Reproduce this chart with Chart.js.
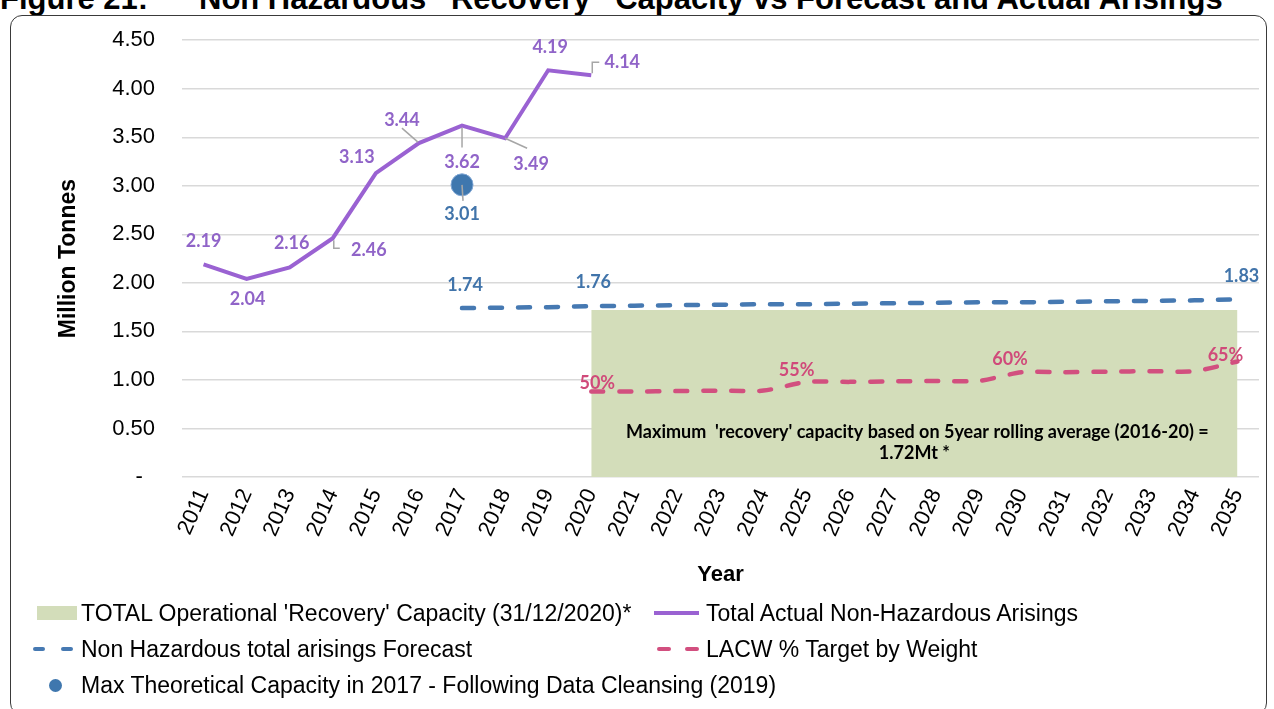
<!DOCTYPE html>
<html>
<head>
<meta charset="utf-8">
<script src="https://cdn.jsdelivr.net/npm/chart.js@4.4.1/dist/chart.umd.min.js"></script>
<style>
  html, body { margin: 0; padding: 0; background: #ffffff; }
  body { width: 1274px; height: 709px; position: relative; overflow: hidden; font-family: "Liberation Sans", Arial, sans-serif; }
  #frame { position: absolute; left: 10px; top: 15px; width: 1257px; height: 700px; border: 1.5px solid #3a3a3a; border-radius: 12px; box-sizing: border-box; }
  #title { position: absolute; left: 0; top: -19px; white-space: pre; font-weight: bold; font-size: 31px; color: #000; line-height: 36px; }
  #chart { position: absolute; left: 0; top: 0; }
  .lg { position: absolute; font-size: 23px; color: #000; white-space: nowrap; line-height: 26px; }
  .sw { position: absolute; }
</style>
</head>
<body>
<div id="title"><span>Figure 21:</span><span style="position:absolute;left:199px;">Non Hazardous  'Recovery'  Capacity vs Forecast and Actual Arisings</span></div>
<div id="frame"></div>
<canvas id="chart" width="1274" height="709"></canvas>
<div id="legend"></div>
<script>
// ---------------- data ----------------
const years = ['2011','2012','2013','2014','2015','2016','2017','2018','2019','2020','2021','2022','2023','2024','2025','2026','2027','2028','2029','2030','2031','2032','2033','2034','2035'];
const actualArisings = [2.19, 2.04, 2.16, 2.46, 3.13, 3.44, 3.62, 3.49, 4.19, 4.14, null, null, null, null, null, null, null, null, null, null, null, null, null, null, null];
const forecastArisings = [null, null, null, null, null, null, 1.74, 1.745, 1.75, 1.76, 1.765, 1.77, 1.775, 1.78, 1.78, 1.785, 1.79, 1.795, 1.80, 1.80, 1.805, 1.81, 1.815, 1.82, 1.83];
const lacwTarget = [null, null, null, null, null, null, null, null, null, 0.88, 0.88, 0.885, 0.89, 0.89, 0.98, 0.98, 0.985, 0.99, 0.99, 1.08, 1.08, 1.085, 1.09, 1.09, 1.19];
const operationalCapacity = [null, null, null, null, null, null, null, null, null, 1.72, 1.72, 1.72, 1.72, 1.72, 1.72, 1.72, 1.72, 1.72, 1.72, 1.72, 1.72, 1.72, 1.72, 1.72, 1.72];
const maxTheoretical2017 = [null, null, null, null, null, null, 3.01, null, null, null, null, null, null, null, null, null, null, null, null, null, null, null, null, null, null];
const lacwTargetLabels = { '2020': '50%', '2025': '55%', '2030': '60%', '2035': '65%' };
const yTicks = { min: 0, max: 4.5, step: 0.5 };
const seriesNames = {
  capacity: "TOTAL Operational 'Recovery' Capacity (31/12/2020)*",
  actual: 'Total Actual Non-Hazardous Arisings',
  forecast: 'Non Hazardous total arisings Forecast',
  lacw: 'LACW % Target by Weight',
  maxTheo: 'Max Theoretical Capacity in 2017 - Following Data Cleansing (2019)'
};
const capacityNote = ["Maximum  'recovery' capacity based on 5year rolling average (2016-20) =", '1.72Mt *'];

// ---------------- styles ----------------
const C = {
  purple: '#9a62d2', purpleText: '#9064c8',
  blue: '#4679b2', blueText: '#4174aa', dot: '#3f77ae',
  pink: '#d24f7f', pinkText: '#d04a7a',
  green: '#d3ddba', grid: '#d9d9d9', leader: '#a6a6a6'
};
const FONT = '"Liberation Sans", Arial, sans-serif';
const LBL = 'bold 18px Lato, "Open Sans", sans-serif';

// label placement: offset of text centre from the point, optional leader polyline (relative to point)
const actualLabelStyle = {
  '2011': { dx: 0, dy: -23 }, '2012': { dx: 1, dy: 20 }, '2013': { dx: 2, dy: -24 },
  '2014': { dx: 36, dy: 12, leader: [[1, 2], [1, 10], [7, 10]] },
  '2015': { dx: -19, dy: -16 },
  '2016': { dx: -17, dy: -23, leader: [[-17, -15], [-1, -1]] },
  '2017': { dx: 0, dy: 37, leader: [[0, 2], [0, 22]] },
  '2018': { dx: 26, dy: 26, leader: [[0, 0], [22, 10]] },
  '2019': { dx: 2, dy: -23 },
  '2020': { dx: 31, dy: -13, leader: [[1, -2], [1, -13], [8, -13]] }
};
const forecastLabelStyle = { '2017': { dx: 3, dy: -23 }, '2020': { dx: 2, dy: -24 }, '2035': { dx: 4, dy: -23 } };
const lacwLabelStyle = { '2020': { dx: 6, dy: -8 }, '2025': { dx: -10, dy: -12 }, '2030': { dx: -12, dy: -13 }, '2035': { dx: -12, dy: -6 } };
const maxTheoLabelStyle = { '2017': { dx: 0, dy: 29, leader: [[0, 0], [1, 16]] } };

// ---------------- plugins ----------------
const valueLabels = {
  id: 'valueLabels',
  afterDatasetsDraw(chart) {
    const ctx = chart.ctx;
    const xs = chart.scales.x, ys = chart.scales.y;
    // capacity note
    const capIdx = operationalCapacity.map((v, i) => v == null ? -1 : i).filter(i => i >= 0);
    const cx = (xs.getPixelForValue(capIdx[0]) + xs.getPixelForValue(capIdx[capIdx.length - 1])) / 2;
    ctx.save();
    ctx.font = 'bold 18px Lato, "Open Sans", sans-serif';
    ctx.fillStyle = '#000';
    ctx.textAlign = 'center';
    ctx.textBaseline = 'middle';
    ctx.fillText(capacityNote[0], cx + 3, ys.getPixelForValue(0.46));
    ctx.fillText(capacityNote[1], cx, ys.getPixelForValue(0.245));
    ctx.restore();

    chart.data.datasets.forEach((ds, di) => {
      if (!ds.labelStyle) return;
      const meta = chart.getDatasetMeta(di);
      Object.keys(ds.labelStyle).forEach(year => {
        const idx = years.indexOf(year);
        const el = meta.data[idx];
        if (!el) return;
        const st = ds.labelStyle[year];
        const px = el.x, py = el.y;
        ctx.save();
        if (st.leader) {
          ctx.strokeStyle = C.leader; ctx.lineWidth = 1.5;
          ctx.beginPath();
          st.leader.forEach((p, k) => k ? ctx.lineTo(px + p[0], py + p[1]) : ctx.moveTo(px + p[0], py + p[1]));
          ctx.stroke();
        }
        ctx.font = LBL;
        ctx.fillStyle = ds.labelColor;
        ctx.textAlign = 'center';
        ctx.textBaseline = 'middle';
        const txt = ds.labelText ? ds.labelText(year, ds.data[idx]) : ds.data[idx].toFixed(2);
        ctx.fillText(txt, px + st.dx, py + st.dy);
        ctx.restore();
      });
    });
  }
};

// ---------------- chart ----------------
const ctx = document.getElementById('chart').getContext('2d');
const chart = new Chart(ctx, {
  type: 'line',
  data: {
    labels: years,
    datasets: [
      { label: seriesNames.capacity, data: operationalCapacity, fill: 'origin', backgroundColor: C.green, borderWidth: 0, borderColor: 'rgba(0,0,0,0)', pointRadius: 0, order: 10 },
      { label: seriesNames.actual, data: actualArisings, borderColor: C.purple, borderWidth: 4, pointRadius: 0, fill: false, order: 1, tension: 0,
        labelStyle: actualLabelStyle, labelColor: C.purpleText },
      { label: seriesNames.forecast, data: forecastArisings, borderColor: C.blue, borderWidth: 4.5, borderDash: [12, 16], borderCapStyle: 'round', pointRadius: 0, fill: false, order: 2,
        labelStyle: forecastLabelStyle, labelColor: C.blueText },
      { label: seriesNames.lacw, data: lacwTarget, borderColor: C.pink, borderWidth: 4.5, borderDash: [12, 16], borderCapStyle: 'round', pointRadius: 0, fill: false, order: 3, tension: 0.25,
        labelStyle: lacwLabelStyle, labelColor: C.pinkText, labelText: (y) => lacwTargetLabels[y] },
      { label: seriesNames.maxTheo, data: maxTheoretical2017, showLine: false, pointRadius: 11, pointHoverRadius: 11, pointBackgroundColor: C.dot, pointBorderColor: '#7fa6d4', pointBorderWidth: 1, order: 0,
        labelStyle: maxTheoLabelStyle, labelColor: C.blueText }
    ]
  },
  options: {
    responsive: false,
    animation: false,
    events: [],
    layout: { padding: { left: 0, right: 15, top: 40, bottom: 112 } },
    plugins: { legend: { display: false }, tooltip: { enabled: false }, title: { display: false } },
    scales: {
      x: {
        offset: true,
        grid: { display: false, drawTicks: false },
        border: { display: false },
        ticks: { autoSkip: false, minRotation: 66, maxRotation: 66, padding: 8, color: '#000', font: { family: FONT, size: 22 } },
        title: { display: true, text: 'Year', color: '#000', font: { family: FONT, size: 22, weight: 'bold' }, padding: { top: 0, bottom: 9 } },
        afterFit: (s) => { s.height = 120; }
      },
      y: {
        min: yTicks.min, max: yTicks.max,
        grid: { color: C.grid, lineWidth: 1.5, drawTicks: false },
        border: { display: false },
        ticks: { stepSize: yTicks.step, padding: 27, color: '#000', font: { family: FONT, size: 22 },
          callback: (v) => v === 0 ? '-  ' : v.toFixed(2) },
        title: { display: true, text: 'Million Tonnes', color: '#000', font: { family: FONT, size: 23, weight: 'bold' }, padding: { top: 55, bottom: 0 } },
        afterFit: (s) => { s.width = 182; }
      }
    }
  },
  plugins: [valueLabels]
});

// ---------------- legend (HTML, built from dataset labels) ----------------
const lg = document.getElementById('legend');
function add(html) { lg.insertAdjacentHTML('beforeend', html); }
const ds = chart.data.datasets;
// row 1
add(`<div class="sw" style="left:37px;top:606px;width:40px;height:14px;background:${C.green}"></div>`);
add(`<div class="lg" style="left:81px;top:600px">${ds[0].label}</div>`);
add(`<div class="sw" style="left:654px;top:611px;width:45px;height:4px;background:${C.purple}"></div>`);
add(`<div class="lg" style="left:706px;top:600px">${ds[1].label}</div>`);
// row 2
add(`<div class="sw" style="left:33px;top:647px;width:12px;height:4px;border-radius:2px;background:${C.blue}"></div>`);
add(`<div class="sw" style="left:61px;top:647px;width:12px;height:4px;border-radius:2px;background:${C.blue}"></div>`);
add(`<div class="lg" style="left:81px;top:636px">${ds[2].label}</div>`);
add(`<div class="sw" style="left:657px;top:647px;width:14px;height:4px;border-radius:2px;background:${C.pink}"></div>`);
add(`<div class="sw" style="left:685px;top:647px;width:14px;height:4px;border-radius:2px;background:${C.pink}"></div>`);
add(`<div class="lg" style="left:706px;top:636px">${ds[3].label}</div>`);
// row 3
add(`<div class="sw" style="left:49px;top:679px;width:13px;height:13px;border-radius:50%;background:${C.dot}"></div>`);
add(`<div class="lg" style="left:81px;top:672px">${ds[4].label}</div>`);
</script>
</body>
</html>
